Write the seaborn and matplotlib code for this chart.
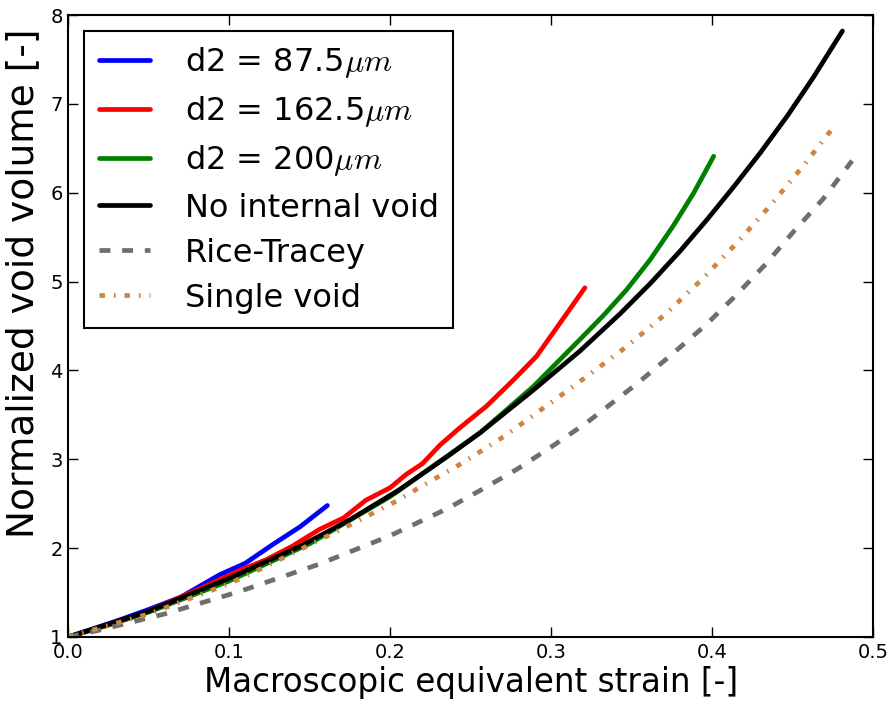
import matplotlib
matplotlib.use("Agg")
import matplotlib.pyplot as plt
import seaborn as sns
import pandas as pd

# ---- data ----
blue_x = [0.0, 0.03, 0.05, 0.07, 0.094, 0.11, 0.127, 0.144, 0.161]
blue_y = [1.0, 1.18, 1.31, 1.45, 1.70, 1.83, 2.04, 2.24, 2.48]

red_x = [0.0, 0.03, 0.05, 0.08, 0.108, 0.123, 0.139, 0.156, 0.171, 0.185, 0.2,
         0.21, 0.22, 0.231, 0.243, 0.26, 0.277, 0.291, 0.321]
red_y = [1.0, 1.16, 1.29, 1.53, 1.76, 1.87, 2.02, 2.21, 2.34, 2.54, 2.68,
         2.83, 2.95, 3.16, 3.35, 3.60, 3.90, 4.16, 4.93]

green_x = [0.0, 0.05, 0.1, 0.15, 0.2, 0.256, 0.289, 0.318, 0.3326, 0.347,
           0.3617, 0.376, 0.3887, 0.401]
green_y = [1.0, 1.28, 1.63, 2.05, 2.58, 3.30, 3.82, 4.35, 4.62, 4.91,
           5.25, 5.63, 6.00, 6.41]

black_x = [0.0, 0.05, 0.1, 0.144, 0.175, 0.206, 0.237, 0.256, 0.289, 0.318,
           0.343, 0.3617, 0.380, 0.397, 0.4136, 0.430, 0.447, 0.463, 0.481]
black_y = [1.0, 1.29, 1.66, 2.02, 2.32, 2.66, 3.05, 3.30, 3.78, 4.22,
           4.64, 4.98, 5.34, 5.70, 6.07, 6.45, 6.87, 7.30, 7.82]

rt_x = [0.0, 0.02, 0.06, 0.106, 0.156, 0.2, 0.235, 0.256, 0.279, 0.301, 0.322,
        0.354, 0.375, 0.396, 0.4146, 0.433, 0.451, 0.469, 0.487]
rt_y = [1.0, 1.08, 1.26, 1.51, 1.82, 2.14, 2.44, 2.65, 2.89, 3.15, 3.41,
        3.86, 4.18, 4.51, 4.84, 5.19, 5.57, 5.93, 6.36]

sv_x = [0.0, 0.05, 0.1, 0.12, 0.148, 0.176, 0.204, 0.218, 0.245, 0.271, 0.297,
        0.322, 0.347, 0.3715, 0.394, 0.4157, 0.4364, 0.4566, 0.476]
sv_y = [1.0, 1.26, 1.60, 1.77, 2.02, 2.27, 2.53, 2.68, 2.96, 3.26, 3.60,
        3.93, 4.27, 4.64, 5.03, 5.44, 5.86, 6.30, 6.75]

labels = [r"d2 = 87.5$\mu m$", r"d2 = 162.5$\mu m$", r"d2 = 200$\mu m$",
          "No internal void", "Rice-Tracey", "Single void"]
x_ticks = [0.0, 0.1, 0.2, 0.3, 0.4, 0.5]
y_ticks = [1, 2, 3, 4, 5, 6, 7, 8]

# ---- style ----
sns.set_style("ticks")
plt.rcParams["font.family"] = ["DejaVu Sans"]
plt.rcParams["mathtext.fontset"] = "cm"
plt.rcParams["text.color"] = "black"
plt.rcParams["axes.labelcolor"] = "black"
plt.rcParams["xtick.color"] = "black"
plt.rcParams["ytick.color"] = "black"

fig = plt.figure(figsize=(8.92, 7.01), dpi=100)
ax = fig.add_axes([0.0765, 0.0913, 0.9022, 0.8873])

LW = 3.4
series = [
    (blue_x, blue_y, "#0000FF", "-"),
    (red_x, red_y, "#FF0000", "-"),
    (green_x, green_y, "#008000", "-"),
    (black_x, black_y, "#000000", "-"),
    (rt_x, rt_y, "#6E6E6E", (0, (2.3, 2.5))),
    (sv_x, sv_y, "#CD853F", (0, (1.15, 1.9, 0.35, 1.9))),
]
for (xs, ys, col, ls), lab in zip(series, labels):
    df = pd.DataFrame({"x": xs, "y": ys})
    sns.lineplot(data=df, x="x", y="y", ax=ax, color=col, linewidth=LW,
                 linestyle=ls, label=lab, errorbar=None, sort=False)

ax.set_xlim(0, 0.5)
ax.set_ylim(1, 8)
ax.set_xticks(x_ticks)
ax.set_yticks(y_ticks)
ax.set_xticklabels([f"{t:.1f}" for t in x_ticks])
ax.set_yticklabels([str(t) for t in y_ticks])
ax.tick_params(direction="in", top=True, right=True, length=7, width=1,
               labelsize=14, pad=4)
for s in ax.spines.values():
    s.set_visible(True)
    s.set_color("black")
    s.set_linewidth(1.5)

ax.set_xlabel("Macroscopic equivalent strain [-]", fontsize=23.5, labelpad=3)
ax.set_ylabel("Normalized void volume [-]", fontsize=27)
ax.yaxis.set_label_coords(-0.034, 0.568)

leg = ax.legend(loc="upper left", fontsize=23, frameon=True, fancybox=False,
                handlelength=1.6, handletextpad=1.1, borderaxespad=0.5,
                borderpad=0.45, labelspacing=0.44)
leg.get_frame().set_edgecolor("black")
leg.get_frame().set_linewidth(1.5)
leg.get_frame().set_alpha(1)

fig.savefig("out.png", dpi=100)
